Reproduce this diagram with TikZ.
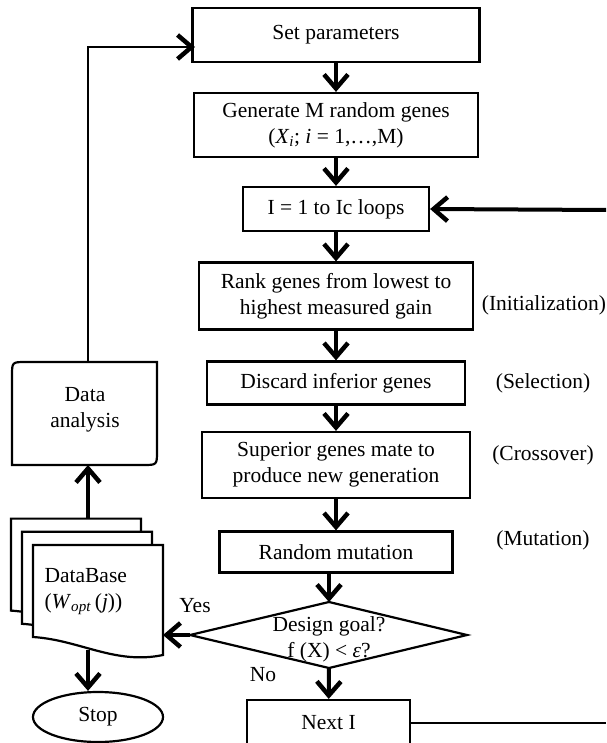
\documentclass[tikz,border=0pt]{standalone}
\usepackage{fontspec}
\setmainfont{Liberation Serif}
\usetikzlibrary{arrows.meta,shapes.geometric}

\tikzset{
  gabox/.style={draw,line width=2.2pt,align=center,inner sep=0pt},
  chevron/.tip={Straight Barb[length=14pt,width=24pt,line width=4.5pt]},
  flowarrow/.style={line width=4pt,-chevron},
  thinline/.style={line width=2.4pt},
  sidelabel/.style={align=center}
}

\begin{document}
\begin{tikzpicture}[x=1pt,y=-1pt,font=\fontsize{21.5}{26}\selectfont]
    \useasboundingbox (0,0) rectangle (606,743);

    % main column
    \node [gabox,minimum width=287pt,minimum height=54pt] (setpar) at (336,35) {Set parameters};
    \node [gabox,minimum width=284pt,minimum height=64pt] (gen) at (336,125)
    {Generate M random genes\\(\textit{X}\textsubscript{\textit{i}}; \textit{i} = 1,…,M)};
    \node [gabox,minimum width=186pt,minimum height=44pt] (loop) at (336,209) {I = 1 to Ic loops};
    \node [gabox,minimum width=274pt,minimum height=67pt] (rank) at (336,296)
    {Rank genes from lowest to\\highest measured gain};
    \node [gabox,minimum width=258pt,minimum height=43pt] (discard) at (336,383) {Discard inferior genes};
    \node [gabox,minimum width=268pt,minimum height=66pt] (superior) at (336,465)
    {Superior genes mate to\\produce new generation};
    \node [gabox,minimum width=233pt,minimum height=41pt] (mutation) at (336,552) {Random mutation};

    % decision
    \coordinate (goaltop) at (329,602);
    \coordinate (goalright) at (467,635);
    \coordinate (goalbot) at (329,668);
    \coordinate (goalleft) at (190,635);
    \draw [line width=2.2pt,fill=white] (goaltop) -- (goalright) -- (goalbot) -- (goalleft) -- cycle;
    \node [align=center,inner sep=0pt] (goal) at (329,639) {Design goal?\\f (X) < \textit{ε}?};
    \node [gabox,minimum width=163pt,minimum height=46pt] (next) at (328.5,723) {Next I};

    % side labels
    \node [sidelabel] (init) at (544,305) {(Initialization)};
    \node [sidelabel] (sel) at (543,383) {(Selection)};
    \node [sidelabel] (cross) at (543,455) {(Crossover)};
    \node [sidelabel] (mut) at (543,540) {(Mutation)};

    % database and stop
    \foreach \off in {22,11,0}
      \draw [line width=2.2pt,fill=white,shift={(-\off,-1.2*\off)}]
        (33,545) -- (163,545) -- (163,655)
        .. controls (115,665) and (80,640) .. (33,637) -- cycle;
    \node [anchor=west,align=left] (dbtext) at (41,592)
    {DataBase\\(\textit{W}\textsubscript{\textit{opt}}\,(\textit{j}))};
    \coordinate (dbtop) at (88,519);
    \coordinate (dbbot) at (88,650);
    \coordinate (dbright) at (163,635);
    \node [draw,ellipse,line width=2.2pt,minimum width=130pt,minimum height=50pt] (stop) at (98,717) {Stop};

    % data analysis
    \draw [line width=2.2pt] (157,362) -- (26,362) .. controls (12,362) .. (12,376) -- (12,465)
      -- (143,465) .. controls (157,465) .. (157,451) -- cycle;
    \node [align=center] (ana) at (85,410) {Data\\analysis};
    \coordinate (anatop) at (88,362);
    \coordinate (anabot) at (88,465);
    \coordinate (parin) at (195,47);

    % loop ends
    \coordinate (loopback) at (606,210);
    \coordinate (nextout) at (606,723);

    \node (yes) at (195,606) {Yes};
    \node (no) at (263,675) {No};

    % connectors
    \draw [flowarrow] (setpar) -- (gen);
    \draw [flowarrow] (gen) -- (loop);
    \draw [flowarrow] (loop) -- (rank);
    \draw [flowarrow] (rank) -- (discard);
    \draw [flowarrow] (discard) -- (superior);
    \draw [flowarrow] (superior) -- (mutation);
    \draw [flowarrow] (mutation.south -| goaltop) -- (goaltop);
    \draw [flowarrow] (goalbot) -- (next);
    \draw [flowarrow] (goalleft) -- (dbright);
    \draw [flowarrow] (dbtop) -- (anabot);
    \draw [flowarrow] (dbbot) -- (dbbot |- stop.north);
    \draw [flowarrow] (loopback) -- (loop.east);
    \draw [thinline,-chevron] (anatop) |- (parin);
    \draw [thinline] (next.east) -- (nextout);
\end{tikzpicture}
\end{document}
